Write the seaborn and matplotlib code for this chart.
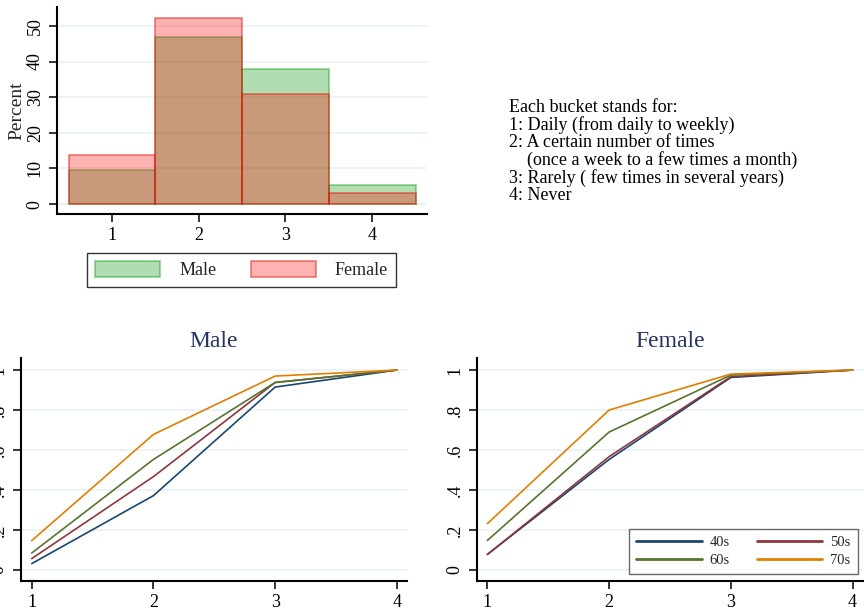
import matplotlib
matplotlib.use("Agg")
import matplotlib.pyplot as plt
from matplotlib.patches import Patch
import seaborn as sns
import pandas as pd

# ---------------- data ----------------
buckets = [1, 2, 3, 4]
male_pct = [9.6, 47.0, 37.9, 5.3]
female_pct = [13.7, 52.3, 31.0, 3.0]

cohorts = ["40s", "50s", "60s", "70s"]
male_cum = {
    "40s": [0.032, 0.372, 0.915, 1.0],
    "50s": [0.057, 0.467, 0.938, 1.0],
    "60s": [0.085, 0.553, 0.938, 1.0],
    "70s": [0.147, 0.678, 0.970, 1.0],
}
female_cum = {
    "40s": [0.078, 0.553, 0.963, 1.0],
    "50s": [0.078, 0.567, 0.967, 1.0],
    "60s": [0.148, 0.690, 0.975, 1.0],
    "70s": [0.232, 0.800, 0.980, 1.0],
}
hist_yticks = [0, 10, 20, 30, 40, 50]
line_yticks = [0, 0.2, 0.4, 0.6, 0.8, 1.0]
line_yticklabels = ["0", ".2", ".4", ".6", ".8", "1"]
note_lines = [
    "Each bucket stands for:",
    "1: Daily (from daily to weekly)",
    "2: A certain number of times",
    "    (once a week to a few times a month)",
    "3: Rarely ( few times in several years)",
    "4: Never",
]

# ---------------- style ----------------
sns.set_theme(style="white")
plt.rcParams["font.family"] = ["Liberation Serif", "DejaVu Serif"]
plt.rcParams["axes.linewidth"] = 1.5

palette = {"40s": "#1a476f", "50s": "#90353b", "60s": "#55752f", "70s": "#e37e00"}
grid_color = "#eaf2f3"
title_color = "#253565"

fig = plt.figure(figsize=(8.64, 6.10), dpi=100)

def style_axes(ax):
    for s in ["top", "right"]:
        ax.spines[s].set_visible(False)
    for s in ["left", "bottom"]:
        ax.spines[s].set_color("black")
        ax.spines[s].set_linewidth(1.5)
    ax.tick_params(axis="both", which="major", direction="out", length=6,
                   width=1.1, colors="black", left=True, bottom=True)
    ax.set_axisbelow(True)
    ax.yaxis.grid(True, color=grid_color, linewidth=1.3)
    ax.xaxis.grid(False)

# ---------------- histogram ----------------
male_face = (0.0, 0.55, 0.0, 0.30)
male_edge = (0.0, 0.6, 0.0, 0.40)
female_face = (1.0, 0.0, 0.0, 0.30)
female_edge = (0.9, 0.1, 0.05, 0.50)

axh = fig.add_axes([0.066, 0.649, 0.428, 0.3395])
sns.histplot(x=buckets, weights=male_pct, discrete=True, ax=axh,
             facecolor=male_face, edgecolor=male_edge, linewidth=1.3)
sns.histplot(x=buckets, weights=female_pct, discrete=True, ax=axh,
             facecolor=female_face, edgecolor=female_edge, linewidth=1.3)
axh.set_xlim(0.366, 4.63)
axh.set_ylim(-2.8, 55.3)
axh.set_xticks(buckets)
axh.set_xticklabels([str(b) for b in buckets], fontsize=13)
axh.set_yticks(hist_yticks)
axh.set_yticklabels([str(t) for t in hist_yticks], fontsize=13, rotation=90, va="center")
axh.set_xlabel("")
axh.set_ylabel("Percent", fontsize=14, labelpad=1)
style_axes(axh)

handles = [
    Patch(facecolor=male_face, edgecolor=male_edge, linewidth=1.3),
    Patch(facecolor=female_face, edgecolor=female_edge, linewidth=1.3),
]
leg = fig.legend(handles, ["Male", "Female"], loc="center",
                 bbox_to_anchor=(0.2795, 0.5574), ncol=2, fontsize=13,
                 frameon=True, fancybox=False, edgecolor="black",
                 handlelength=3.6, handleheight=1.0, handletextpad=1.05,
                 columnspacing=1.9, borderpad=0.45)
leg.get_frame().set_linewidth(1.0)

# ---------------- note text ----------------
fig.text(509 / 864, 1 - 99 / 610, "\n".join(note_lines), ha="left", va="top",
         fontsize=13, linespacing=1.0, color="black")

# ---------------- cumulative line charts ----------------
def make_df(cum):
    rows = []
    for c in cohorts:
        for b, v in zip(buckets, cum[c]):
            rows.append({"bucket": b, "cum": v, "cohort": c})
    return pd.DataFrame(rows)

for left, cum, title, show_leg in [
    (21 / 864, male_cum, "Male", False),
    (476.7 / 864, female_cum, "Female", True),
]:
    ax = fig.add_axes([left, 0.048, 0.447, 0.365])
    sns.lineplot(data=make_df(cum), x="bucket", y="cum", hue="cohort",
                 hue_order=cohorts, palette=palette, linewidth=1.2, ax=ax,
                 legend=show_leg)
    ax.set_xlim(0.912, 4.085)
    ax.set_ylim(-0.0535, 1.06)
    ax.set_xticks(buckets)
    ax.set_xticklabels([str(b) for b in buckets], fontsize=13)
    ax.set_yticks(line_yticks)
    ax.set_yticklabels(line_yticklabels, fontsize=13, rotation=90, va="center")
    ax.set_xlabel("")
    ax.set_ylabel("")
    ax.set_title(title, fontsize=17, color=title_color, pad=8)
    style_axes(ax)
    if show_leg:
        h, l = ax.get_legend_handles_labels()
        order = [0, 2, 1, 3]  # row-wise: 40s 50s / 60s 70s
        lg = ax.legend([h[i] for i in order], [l[i] for i in order],
                       loc="lower right", bbox_to_anchor=(0.987, 0.030),
                       borderaxespad=0, ncol=2, fontsize=10.5, frameon=True,
                       fancybox=False, edgecolor="#444444", handlelength=4.5,
                       handletextpad=0.55, columnspacing=1.85, borderpad=0.5,
                       labelspacing=0.3)
        lg.get_frame().set_linewidth(1.0)
        for line in lg.get_lines():
            line.set_linewidth(2.0)

fig.savefig("out.png", dpi=100, facecolor="white")
